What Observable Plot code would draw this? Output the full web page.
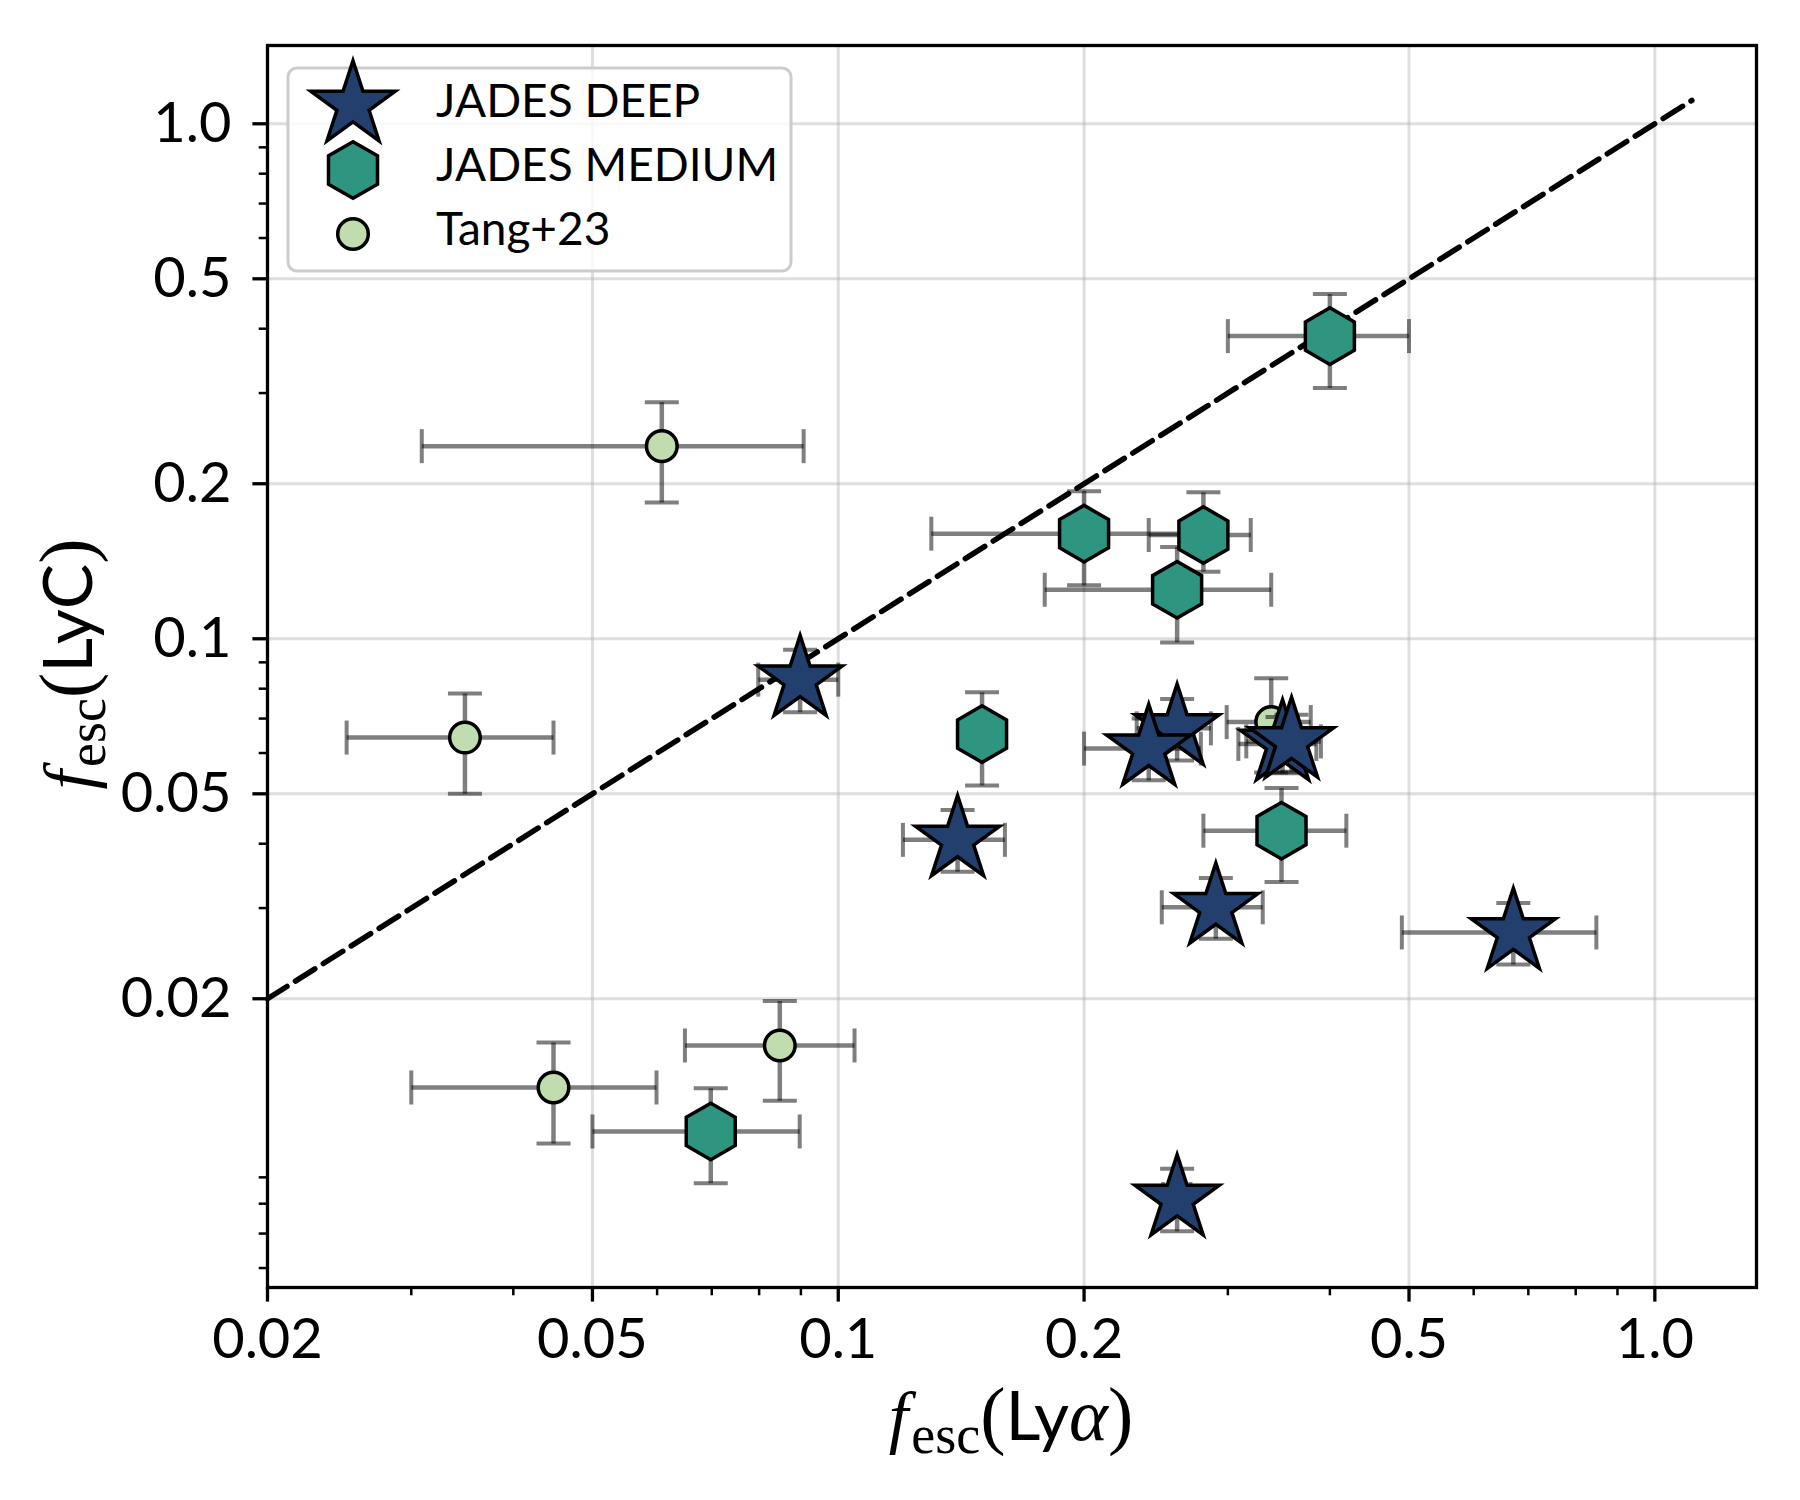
<!DOCTYPE html>
<html>
<head>
<meta charset="utf-8">
<script src="https://cdn.jsdelivr.net/npm/d3@7"></script>
<script src="https://cdn.jsdelivr.net/npm/@observablehq/plot@0.6"></script>
<style>
  body { margin: 0; background: #ffffff; }
  #chart svg { display: block; }
</style>
</head>
<body>
<div id="chart"></div>
<script>
// ---------------- data ----------------
// JADES DEEP (stars)
const deepX   = [0.0898, 0.140, 0.260, 0.240, 0.350, 0.359, 0.290, 0.671, 0.260];
const deepY   = [0.0833, 0.0407, 0.0670, 0.0612, 0.0625, 0.0632, 0.0301, 0.0269, 0.00817];
const deepXlo = [0.0798, 0.120, 0.232, 0.200, 0.309, 0.316, 0.249, 0.490, 0.250];
const deepXhi = [0.1000, 0.160, 0.286, 0.278, 0.385, 0.390, 0.331, 0.848, 0.270];
const deepYlo = [0.0720, 0.0353, 0.0580, 0.0531, 0.0548, 0.0552, 0.02615, 0.0233, 0.00707];
const deepYhi = [0.0952, 0.0465, 0.0764, 0.0700, 0.0705, 0.0712, 0.0343, 0.0307, 0.00935];

// JADES MEDIUM (hexagons)
const medX   = [0.400, 0.200, 0.280, 0.260, 0.150, 0.349, 0.0698];
const medY   = [0.387, 0.160, 0.159, 0.1245, 0.0653, 0.0424, 0.01105];
const medXlo = [0.300, 0.130, 0.240, 0.179, 0.146, 0.280, 0.0500];
const medXhi = [0.500, 0.268, 0.320, 0.339, 0.154, 0.419, 0.0897];
const medYlo = [0.307, 0.127, 0.135, 0.0984, 0.0519, 0.0337, 0.00877];
const medYhi = [0.467, 0.1935, 0.1925, 0.1508, 0.0787, 0.0513, 0.0134];

// Tang+23 (circles)
const tangX   = [0.0608, 0.0349, 0.0448, 0.0848, 0.339];
const tangY   = [0.2366, 0.0643, 0.01345, 0.01623, 0.0689];
const tangXlo = [0.0309, 0.0250, 0.0300, 0.0649, 0.299];
const tangXhi = [0.0907, 0.0448, 0.0599, 0.1047, 0.379];
const tangYlo = [0.184, 0.0500, 0.01047, 0.01268, 0.0550];
const tangYhi = [0.288, 0.0783, 0.01645, 0.0198, 0.0838];

// one-to-one reference line
const oneToOne = [0.02, 1.11];

// axes
const xDomain = [0.02, 1.332];
const yDomain = [0.0055, 1.419];
const xTicks = [0.02, 0.05, 0.1, 0.2, 0.5, 1.0];
const yTicks = [0.02, 0.05, 0.1, 0.2, 0.5, 1.0];
const xMinor = [0.03, 0.04, 0.06, 0.07, 0.08, 0.09, 0.3, 0.4, 0.6, 0.7, 0.8, 0.9];
const yMinor = [0.006, 0.007, 0.008, 0.009, 0.03, 0.04, 0.06, 0.07, 0.08, 0.09, 0.3, 0.4, 0.6, 0.7, 0.8, 0.9];

const seriesNames = ["JADES DEEP", "JADES MEDIUM", "Tang+23"];
const seriesFill  = ["#223f6e", "#2e9580", "#c1dcaf"];

// ---------------- symbols ----------------
const hexSym = {
  draw(ctx, size) {
    const rx = Math.sqrt(size / Math.PI), ry = rx * 2 / Math.sqrt(3), hy = ry / 2;
    ctx.moveTo(0, -ry); ctx.lineTo(rx, -hy); ctx.lineTo(rx, hy);
    ctx.lineTo(0, ry); ctx.lineTo(-rx, hy); ctx.lineTo(-rx, -hy); ctx.closePath();
  }
};
const capV = { draw(ctx, size) { const r = Math.sqrt(size / Math.PI); ctx.moveTo(0, -r); ctx.lineTo(0, r); } };
const capH = { draw(ctx, size) { const r = Math.sqrt(size / Math.PI); ctx.moveTo(-r, 0); ctx.lineTo(r, 0); } };

const symbols = [d3.symbolStar, hexSym, d3.symbolCircle];
const radii = [26.5, 24.5, 15.3];

function rows(X, Y, xlo, xhi, ylo, yhi) {
  return X.map((x, i) => ({ x, y: Y[i], xlo: xlo[i], xhi: xhi[i], ylo: ylo[i], yhi: yhi[i] }));
}
const tangRows = rows(tangX, tangY, tangXlo, tangXhi, tangYlo, tangYhi);
const medRows  = rows(medX, medY, medXlo, medXhi, medYlo, medYhi);
const deepRows = rows(deepX, deepY, deepXlo, deepXhi, deepYlo, deepYhi);

const errStyle = { stroke: "black", strokeOpacity: 0.5, strokeWidth: 4.5 };
const capStyle = { stroke: "black", strokeOpacity: 0.5, strokeWidth: 4, fill: "none", r: 17 };

function errorMarks(data) {
  return [
    Plot.link(data, { x1: "xlo", x2: "xhi", y1: "y", y2: "y", ...errStyle }),
    Plot.link(data, { x1: "x", x2: "x", y1: "ylo", y2: "yhi", ...errStyle }),
    Plot.dot(data, { x: "xlo", y: "y", symbol: capV, ...capStyle }),
    Plot.dot(data, { x: "xhi", y: "y", symbol: capV, ...capStyle }),
    Plot.dot(data, { x: "x", y: "ylo", symbol: capH, ...capStyle }),
    Plot.dot(data, { x: "x", y: "yhi", symbol: capH, ...capStyle })
  ];
}
function markerMarks(data, k) {
  return Plot.dot(data, {
    x: "x", y: "y", symbol: symbols[k], r: radii[k],
    fill: seriesFill[k], stroke: "black", strokeWidth: 3.5, fillOpacity: 1
  });
}

const fmt = d => (d === 1 ? "1.0" : String(d));
const sans = "Lato, 'Noto Sans', sans-serif";
const serif = "'Liberation Serif', 'DejaVu Serif', serif";

const W = 1800, H = 1500;
const plot = Plot.plot({
  width: W, height: H,
  marginLeft: 267, marginRight: 44, marginTop: 45, marginBottom: 213,
  style: { fontFamily: sans, fontSize: "56px", color: "black", background: "white" },
  x: { type: "log", domain: xDomain, label: null },
  y: { type: "log", domain: yDomain, label: null },
  marks: [
    Plot.gridX({ ticks: xTicks, stroke: "#b0b0b0", strokeOpacity: 0.42, strokeWidth: 3 }),
    Plot.gridY({ ticks: yTicks, stroke: "#b0b0b0", strokeOpacity: 0.42, strokeWidth: 3 }),
    Plot.line(oneToOne, { x: d => d, y: d => d, stroke: "black", strokeWidth: 5.5, strokeDasharray: "23,10" }),
    ...errorMarks(tangRows), markerMarks(tangRows, 2),
    ...errorMarks(medRows), markerMarks(medRows, 1),
    ...errorMarks(deepRows), markerMarks(deepRows, 0),
    // minor ticks
    Plot.axisX({ ticks: xMinor, tickSize: 8.3, strokeWidth: 2.5, tickFormat: () => "", label: null }),
    Plot.axisY({ ticks: yMinor, tickSize: 8.3, strokeWidth: 2.5, tickFormat: () => "", label: null }),
    // major ticks (labels drawn as text marks below)
    Plot.axisX({ ticks: xTicks, tickSize: 14.6, strokeWidth: 3.3, tickFormat: () => "", label: null }),
    Plot.axisY({ ticks: yTicks, tickSize: 14.6, strokeWidth: 3.3, tickFormat: () => "", label: null }),
    Plot.text(xTicks, { x: d => d, text: fmt, frameAnchor: "bottom", lineAnchor: "top", dy: 31, fontSize: 56, fontFamily: sans, fill: "black" }),
    Plot.text(yTicks, { y: d => d, text: fmt, frameAnchor: "left", textAnchor: "end", lineAnchor: "middle", dx: -36, fontSize: 56, fontFamily: sans, fill: "black" }),
    Plot.frame({ stroke: "black", strokeWidth: 3.3 })
  ]
});
document.getElementById("chart").appendChild(plot);

// ---------------- axis labels (math-style) ----------------
const svg = d3.select(plot);

function mathLabel(g, inner, innerItalic) {
  const t = g.append("text").attr("text-anchor", "middle").attr("fill", "black");
  t.append("tspan").attr("font-family", serif).attr("font-style", "italic").attr("font-size", 70).text("f");
  t.append("tspan").attr("font-family", serif).attr("font-size", 54).attr("dy", 13).attr("dx", 3).text("esc");
  t.append("tspan").attr("font-family", serif).attr("font-size", 76).attr("dy", -13).text("(");
  t.append("tspan").attr("font-family", sans).attr("font-size", 68).text(inner);
  if (innerItalic) t.append("tspan").attr("font-family", serif).attr("font-style", "italic").attr("font-size", 74).text(innerItalic);
  t.append("tspan").attr("font-family", serif).attr("font-size", 76).text(")");
  return t;
}
mathLabel(svg.append("g").attr("transform", "translate(1011,1440)"), "Ly", "α");
mathLabel(svg.append("g").attr("transform", "translate(92,664) rotate(-90)"), "LyC", null);

// ---------------- legend ----------------
const lg = svg.append("g");
lg.append("rect").attr("x", 288).attr("y", 68).attr("width", 503).attr("height", 203).attr("rx", 9)
  .attr("fill", "white").attr("fill-opacity", 0.8).attr("stroke", "#cccccc").attr("stroke-width", 3);
const legendY = [105, 170, 234];
const textY = [117, 181, 245];
seriesNames.forEach((name, k) => {
  lg.append("path")
    .attr("d", d3.symbol(symbols[k], Math.PI * radii[k] * radii[k])())
    .attr("transform", `translate(353,${legendY[k]})`)
    .attr("fill", seriesFill[k]).attr("stroke", "black").attr("stroke-width", 3.5);
  lg.append("text").attr("x", 436).attr("y", textY[k]).attr("text-anchor", "start")
    .attr("font-family", sans).attr("font-size", 46).attr("fill", "black").text(name);
});
</script>
</body>
</html>
